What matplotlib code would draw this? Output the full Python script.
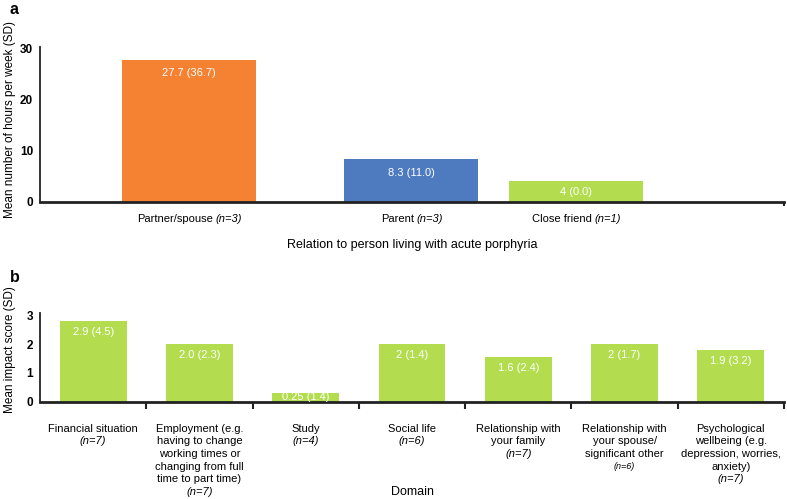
import matplotlib
matplotlib.use("Agg")
import matplotlib.pyplot as plt
from matplotlib.transforms import blended_transform_factory

plt.rcParams['font.family'] = ['Liberation Sans', 'DejaVu Sans']

# ---------------- data ----------------
rel_categories = ["Partner/spouse", "Parent", "Close friend"]
rel_n = ["(n=3)", "(n=3)", "(n=1)"]
rel_hours = [27.7, 8.3, 4.0]
rel_labels = ["27.7 (36.7)", "8.3 (11.0)", "4 (0.0)"]
rel_colors = ["#F58232", "#4E7AC0", "#B3DD4E"]

dom_lines = [
    ["Financial situation"],
    ["Employment (e.g.", "having to change", "working times or", "changing from full", "time to part time)"],
    ["Study"],
    ["Social life"],
    ["Relationship with", "your family"],
    ["Relationship with", "your spouse/", "significant other"],
    ["Psychological", "wellbeing (e.g.", "depression, worries,", "anxiety)"],
]
dom_n = ["(n=7)", "(n=7)", "(n=4)", "(n=6)", "(n=7)", "(n=6)", "(n=7)"]
dom_scores = [2.8, 2.0, 0.3, 2.0, 1.57, 2.0, 1.8]
dom_labels = ["2.9 (4.5)", "2.0 (2.3)", "0.25 (1.4)", "2 (1.4)", "1.6 (2.4)", "2 (1.7)", "1.9 (3.2)"]
dom_color = "#B3DD4E"

# ---------------- layout ----------------
W, H = 787, 499
fig = plt.figure(figsize=(W / 100, H / 100), dpi=100)

def px2pt(p):
    return p * 0.72

AX_L, AX_R = 40, 784
# top panel
axa = fig.add_axes([AX_L / W, 1 - 202 / H, (AX_R - AX_L) / W, 155 / H])
rel_pos = [1.112, 2.772, 4.0]   # bar centres in bar-width units
axa.set_xlim(0, (AX_R - AX_L) / 134)
axa.set_ylim(0, 30.2)
axa.bar(rel_pos, rel_hours, width=1.0, color=rel_colors, zorder=2)
ppu_a = 155 / 30.2
for x, v, lab in zip(rel_pos, rel_hours, rel_labels):
    y = max(v - 13.5 / ppu_a, v / 2)
    axa.text(x, y, lab, color="white", fontsize=8, ha="center", va="center", zorder=3)

axa.set_yticks([0, 10, 20, 30])
axa.set_yticklabels(["0", "10", "20", "30"], fontweight="bold", fontsize=8.5)
axa.tick_params(axis="y", length=0, pad=5)
axa.set_xticks([])
axa.set_xticks([(AX_R - AX_L) / 134], minor=True)
axa.tick_params(axis="x", which="minor", length=3, width=1.5, color="#222222", direction="out")
for s in ["top", "right"]:
    axa.spines[s].set_visible(False)
axa.spines["bottom"].set_linewidth(2)
axa.spines["bottom"].set_color("#222222")
axa.spines["left"].set_linewidth(1.3)
axa.spines["left"].set_color("#222222")

trA = blended_transform_factory(axa.transData, axa.transAxes)
for x, c, n in zip(rel_pos, rel_categories, rel_n):
    main = axa.annotate(c, xy=(x, 0), xycoords=trA,
                        xytext=(-px2pt(14), -px2pt(17)), textcoords="offset points",
                        ha="center", va="center", fontsize=8)
    axa.annotate(n, xy=(1, 0.5), xycoords=main, xytext=(px2pt(3), 0),
                 textcoords="offset points", ha="left", va="center",
                 fontsize=8, fontstyle="italic")
axa.annotate("Relation to person living with acute porphyria", xy=(0.5, 0), xycoords="axes fraction",
             xytext=(0, -px2pt(43)), textcoords="offset points", ha="center", va="center", fontsize=9)
axa.set_ylabel("Mean number of hours per week (SD)", fontsize=8.5)
axa.yaxis.set_label_coords(-24 / (AX_R - AX_L), (202 - 119) / 155)
fig.text(10 / W, 1 - 9 / H, "a", fontsize=11.5, fontweight="bold", ha="left", va="center")

# bottom panel
axb = fig.add_axes([AX_L / W, 1 - 401.5 / H, (AX_R - AX_L) / W, 88.5 / H])
ncat = len(dom_scores)
xs = list(range(ncat))
axb.set_xlim(-0.5, ncat - 0.5)
axb.set_ylim(0, 3.09)
axb.bar(xs, dom_scores, width=0.63, color=dom_color, zorder=2)
ppu_b = 88.5 / 3.09
for x, v, lab in zip(xs, dom_scores, dom_labels):
    y = max(v - 11 / ppu_b, v / 2)
    axb.text(x, y, lab, color="white", fontsize=8, ha="center", va="center", zorder=3)
axb.set_yticks([0, 1, 2, 3])
axb.set_yticklabels(["0", "1", "2", "3"], fontweight="bold", fontsize=8.5)
axb.tick_params(axis="y", length=0, pad=5)
axb.set_xticks([])
axb.set_xticks([i + 0.5 for i in xs], minor=True)
axb.tick_params(axis="x", which="minor", length=5, width=1.5, color="#222222", direction="out")
for s in ["top", "right"]:
    axb.spines[s].set_visible(False)
axb.spines["bottom"].set_linewidth(2)
axb.spines["bottom"].set_color("#222222")
axb.spines["left"].set_linewidth(1.3)
axb.spines["left"].set_color("#222222")

trB = blended_transform_factory(axb.transData, axb.transAxes)
LINE = 12.7
for x, lines, n in zip(xs, dom_lines, dom_n):
    k = 0
    for ln in lines:
        axb.annotate(ln, xy=(x, 0), xycoords=trB, xytext=(0, -px2pt(27 + LINE * k)),
                     textcoords="offset points", ha="center", va="center", fontsize=8)
        k += 1
    small = (n == "(n=6)" and len(lines) == 3)
    axb.annotate(n, xy=(x, 0), xycoords=trB, xytext=(0, -px2pt(27 + LINE * k)),
                 textcoords="offset points", ha="center", va="center",
                 fontsize=6.5 if small else 8, fontstyle="italic")
axb.annotate("Domain", xy=(0.5, 0), xycoords="axes fraction",
             xytext=(0, -px2pt(90.5)), textcoords="offset points", ha="center", va="center", fontsize=9)
axb.set_ylabel("Mean impact score (SD)", fontsize=8.5)
axb.yaxis.set_label_coords(-24 / (AX_R - AX_L), (401.5 - 350) / 88.5)
fig.text(10 / W, 1 - 278 / H, "b", fontsize=11.5, fontweight="bold", ha="left", va="center")

fig.savefig("out.png", dpi=100)
